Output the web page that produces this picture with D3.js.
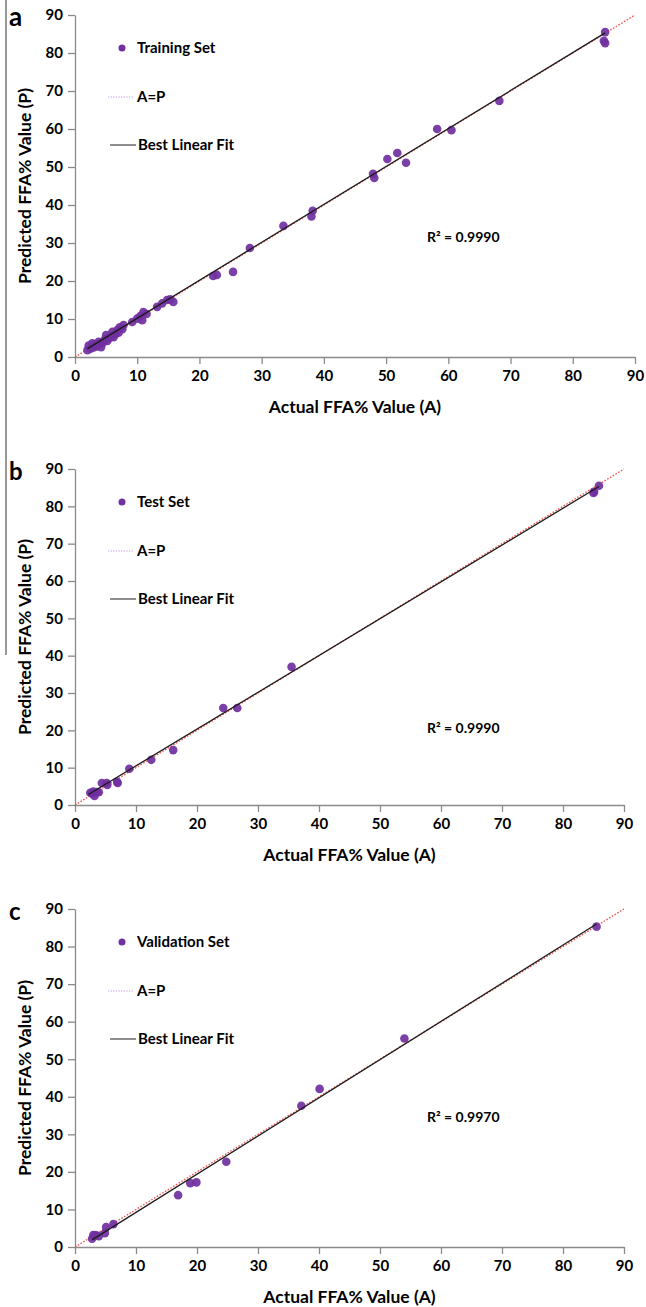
<!DOCTYPE html>
<html>
<head>
<meta charset="utf-8">
<script src="https://cdn.jsdelivr.net/npm/d3@7"></script>
<style>
  body { margin: 0; background: #fff; }
  svg text { font-family: Lato, "Open Sans", sans-serif; font-weight: bold; fill: #000; }
</style>
</head>
<body>
<div id="chart"></div>
<script>
// Predicted vs actual FFA% for the three data sets

// tick values shared by every panel
const axisTicks = [0, 10, 20, 30, 40, 50, 60, 70, 80, 90];

// [actual, predicted] pairs
const trainingSet = [
  [2.0, 1.8], [2.2, 3.0], [2.5, 2.2], [2.8, 3.6], [3.0, 2.5], [3.2, 3.3],
  [3.5, 2.8], [3.8, 4.0], [4.0, 3.5], [4.2, 2.6], [4.5, 3.8], [4.8, 4.6],
  [5.0, 5.8], [5.2, 4.2], [5.5, 5.0], [5.8, 5.5], [6.0, 6.6], [6.2, 5.2],
  [6.5, 6.0], [6.8, 7.1], [7.0, 6.4], [7.2, 7.8], [7.6, 7.3], [7.8, 8.4],
  [9.2, 9.2], [10.0, 10.1], [10.5, 10.8], [10.8, 9.7], [11.0, 11.8],
  [11.5, 11.3], [13.2, 13.2], [14.0, 14.1], [14.8, 15.0], [15.3, 15.2],
  [15.8, 14.5], [22.2, 21.3], [22.8, 21.6], [25.4, 22.4], [28.1, 28.7],
  [33.5, 34.5], [38.0, 37.0], [38.2, 38.5], [47.9, 48.2], [48.1, 47.1],
  [50.2, 52.1], [51.8, 53.7], [53.2, 51.1], [58.2, 60.0], [60.5, 59.7],
  [68.2, 67.4], [85.2, 85.5], [85.2, 82.6], [85.0, 83.2]
];

const testSet = [
  [2.5, 3.3], [2.8, 3.0], [3.0, 3.6], [3.2, 2.4], [3.6, 3.5], [3.9, 3.4],
  [4.4, 5.9], [5.2, 5.9], [5.3, 5.4], [6.9, 6.2], [7.0, 5.9], [8.9, 9.7],
  [12.5, 12.1], [16.1, 14.7], [24.3, 26.0], [26.6, 26.0], [35.5, 37.0],
  [85.0, 83.6], [85.1, 83.9], [85.9, 85.5]
];

const validationSet = [
  [2.8, 2.2], [3.0, 3.2], [3.4, 3.2], [3.9, 2.9], [4.9, 3.7], [5.1, 5.3],
  [6.3, 6.1], [16.9, 13.8], [18.9, 17.0], [19.9, 17.2], [24.8, 22.7],
  [37.1, 37.6], [40.1, 42.1], [54.0, 55.5], [85.5, 85.3]
];

// end points of the best linear fit lines
const fitTraining = [[2.0, 2.2], [85.2, 85.3]];
const fitTest = [[2.2, 2.8], [85.9, 85.3]];
const fitValidation = [[2.8, 1.9], [85.5, 86.0]];

// identity line A = P
const identity = [[0, 0], [90, 90]];

const setNames = ["Training Set", "Test Set", "Validation Set"];
const panelLetters = ["a", "b", "c"];
const rSquared = ["R² = 0.9990", "R² = 0.9990", "R² = 0.9970"];

const width = 646;
const height = 1307;

const svg = d3.select("#chart")
  .append("svg")
  .attr("width", width)
  .attr("height", height);

// thin rule on the left that runs along panels a and b
svg.append("line")
  .attr("x1", 6).attr("x2", 6)
  .attr("y1", 0).attr("y2", 655)
  .attr("stroke", "#333")
  .attr("stroke-width", 1);

// pixel boxes of each plot area
const panels = [
  {left: 75, right: 635, top: 15, bottom: 357, rY: 242, data: trainingSet, fit: fitTraining},
  {left: 75, right: 624, top: 469, bottom: 805, rY: 733, data: testSet, fit: fitTest},
  {left: 75, right: 624, top: 909, bottom: 1247, rY: 1122, data: validationSet, fit: fitValidation}
];

panels.forEach(function (p, i) {
  const g = svg.append("g");

  const xScale = d3.scaleLinear()
    .domain([0, 90])
    .range([p.left, p.right]);

  const yScale = d3.scaleLinear()
    .domain([0, 90])
    .range([p.bottom, p.top]);

  // y axis
  const yAxis = g.append("g")
    .attr("transform", `translate(${p.left},0)`)
    .call(d3.axisLeft(yScale).tickValues(axisTicks).tickSize(7).tickSizeOuter(0).tickPadding(5));

  // x axis
  const xAxis = g.append("g")
    .attr("transform", `translate(0,${p.bottom})`)
    .call(d3.axisBottom(xScale).tickValues(axisTicks).tickSize(7).tickSizeOuter(0).tickPadding(6));

  [xAxis, yAxis].forEach(function (ax) {
    ax.select(".domain").attr("stroke", "#8a8a8a").attr("stroke-width", 1.3);
    ax.selectAll(".tick line").attr("stroke", "#8a8a8a").attr("stroke-width", 1.3);
    ax.selectAll(".tick text")
      .attr("font-size", "15px")
      .attr("font-family", "Lato, sans-serif")
      .attr("font-weight", "bold")
      .attr("fill", "#000");
  });

  // axis titles
  g.append("text")
    .attr("x", (p.left + p.right) / 2)
    .attr("y", p.bottom + 56)
    .attr("text-anchor", "middle")
    .attr("font-size", "17.5px")
    .text("Actual FFA% Value (A)");

  g.append("text")
    .attr("transform", `translate(31,${(p.top + p.bottom) / 2}) rotate(-90)`)
    .attr("text-anchor", "middle")
    .attr("font-size", "17.5px")
    .text("Predicted FFA% Value (P)");

  // panel letter
  g.append("text")
    .attr("x", 9)
    .attr("y", p.top + 11)
    .attr("font-family", "'Liberation Sans', Arial, sans-serif")
    .attr("font-size", i === 0 ? "26px" : "24px")
    .text(panelLetters[i]);

  const line = d3.line()
    .x((d) => xScale(d[0]))
    .y((d) => yScale(d[1]));

  // A = P dotted line
  g.append("path")
    .datum(identity)
    .attr("d", line)
    .attr("fill", "none")
    .attr("stroke", "#f0504a")
    .attr("stroke-width", 1.3)
    .attr("stroke-dasharray", "1.6,1.6");

  // data points
  g.selectAll("circle.pt")
    .data(p.data)
    .enter()
    .append("circle")
    .attr("class", "pt")
    .attr("cx", (d) => xScale(d[0]))
    .attr("cy", (d) => yScale(d[1]))
    .attr("r", 4.3)
    .attr("fill", "#7030a0")
    .attr("fill-opacity", 0.92);

  // best linear fit
  g.append("path")
    .datum(p.fit)
    .attr("d", line)
    .attr("fill", "none")
    .attr("stroke", "#1a1a1a")
    .attr("stroke-width", 1.3);

  // legend
  const lg = g.append("g").attr("transform", `translate(0,${p.top})`);

  lg.append("circle")
    .attr("cx", 122).attr("cy", 33).attr("r", 3.5)
    .attr("fill", "#7030a0");
  lg.append("text")
    .attr("x", 137).attr("y", 38)
    .attr("font-size", "15px")
    .text(setNames[i]);

  lg.append("line")
    .attr("x1", 108).attr("x2", 134)
    .attr("y1", 82).attr("y2", 82)
    .attr("stroke", "#c99ae0")
    .attr("stroke-width", 1.2)
    .attr("stroke-dasharray", "1.3,1.3");
  lg.append("text")
    .attr("x", 137).attr("y", 87)
    .attr("font-size", "15px")
    .text("A=P");

  lg.append("line")
    .attr("x1", 110).attr("x2", 136)
    .attr("y1", 130).attr("y2", 130)
    .attr("stroke", "#444")
    .attr("stroke-width", 1.2);
  lg.append("text")
    .attr("x", 138).attr("y", 135)
    .attr("font-size", "15px")
    .text("Best Linear Fit");

  // R squared
  g.append("text")
    .attr("x", 427)
    .attr("y", p.rY)
    .attr("font-size", "14px")
    .text(rSquared[i]);
});
</script>
</body>
</html>
